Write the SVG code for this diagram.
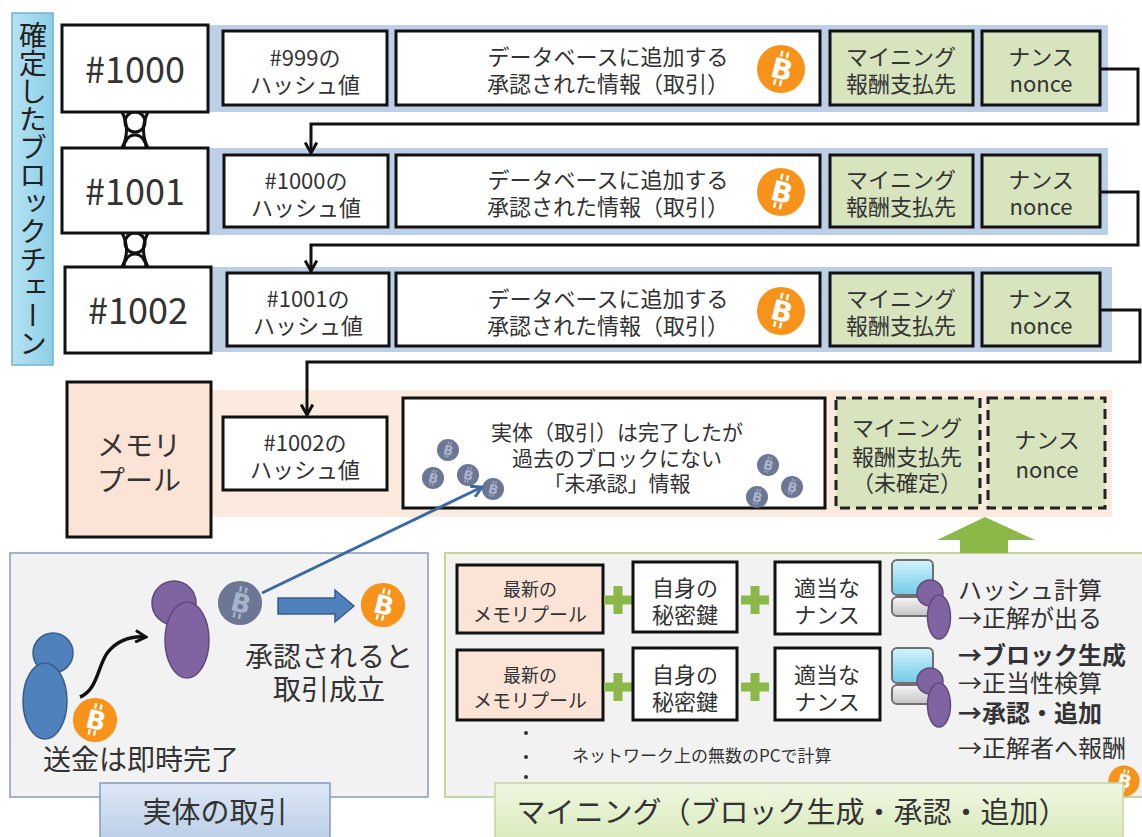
<svg xmlns="http://www.w3.org/2000/svg" xmlns:xlink="http://www.w3.org/1999/xlink" width="1142" height="837" viewBox="0 0 1142 837">
  <style>
    text { font-family: "Noto Sans CJK JP", "Noto Sans", sans-serif; fill: #333; }
    .box { fill: #fff; stroke: #111; stroke-width: 3; }
    .grn { fill: #d7e4bd; stroke: #111; stroke-width: 3; }
    .pch { fill: #fbe4d5; stroke: #111; stroke-width: 3; }
    .dash { fill: #d7e4bd; stroke: #222; stroke-width: 3; stroke-dasharray: 10 6; }
    .band { fill: #bccfe6; }
    .conn { fill: none; stroke: #111; stroke-width: 3; }
    .link { fill: none; stroke: #111; stroke-width: 3; }
    .t22 { font-size: 22px; text-anchor: middle; }
    .t21 { font-size: 21px; text-anchor: middle; }
    .t18 { font-size: 18px; text-anchor: middle; }
    .t28 { font-size: 28px; text-anchor: middle; }
    .big { font-size: 36px; text-anchor: middle; }
    .side { font-size: 24px; }
    .plus { fill: #8cb84a; }
    .coinB { font-family: "DejaVu Sans", sans-serif; font-size: 28px; font-weight: bold; text-anchor: middle; }
  </style>
  <defs>
    <marker id="arr" viewBox="0 0 12 12" refX="10" refY="6" markerWidth="14" markerHeight="14" markerUnits="userSpaceOnUse" orient="auto">
      <path d="M1,1 L10,6 L1,11" fill="none" stroke="#111" stroke-width="2.5"/>
    </marker>
    <marker id="arrB" viewBox="0 0 12 12" refX="10" refY="6" markerWidth="14" markerHeight="14" markerUnits="userSpaceOnUse" orient="auto">
      <path d="M1,1 L10,6 L1,11" fill="none" stroke="#3a6aa0" stroke-width="2.5"/>
    </marker>
    <!-- orange coin, centred on origin, radius 24 -->
    <g id="coin">
      <circle r="24" fill="#f7931a"/>
      <g transform="rotate(14)">
        <text x="1" y="10" class="coinB" style="fill:#fff">B</text>
        <path d="M-3,-18 V-12 M3,-18 V-12 M-3,11 V17 M3,11 V17" stroke="#fff" stroke-width="2.5"/>
      </g>
    </g>
    <!-- grey coin for unconfirmed value -->
    <g id="gcoin">
      <circle r="24" fill="#6b7795"/>
      <g transform="rotate(14)">
        <text x="1" y="10" class="coinB" style="fill:#a9b3ca">B</text>
        <path d="M-3,-18 V-12 M3,-18 V-12 M-3,11 V17 M3,11 V17" stroke="#a9b3ca" stroke-width="2.5"/>
      </g>
    </g>
    <linearGradient id="gScreen" x1="0" y1="0" x2="0" y2="1">
      <stop offset="0" stop-color="#d2f3fc"/>
      <stop offset="1" stop-color="#6fcbe9"/>
    </linearGradient>
    <linearGradient id="gBase" x1="0" y1="0" x2="0" y2="1">
      <stop offset="0" stop-color="#f5f5f5"/>
      <stop offset="1" stop-color="#c4c4c4"/>
    </linearGradient>
    <linearGradient id="gSide" x1="0" y1="0" x2="1" y2="0">
      <stop offset="0" stop-color="#b5e2f3"/>
      <stop offset="1" stop-color="#8ccfe8"/>
    </linearGradient>
    <linearGradient id="gBlueLbl" x1="0" y1="0" x2="0" y2="1">
      <stop offset="0" stop-color="#dde8f5"/>
      <stop offset="1" stop-color="#b9cde6"/>
    </linearGradient>
    <linearGradient id="gGreenLbl" x1="0" y1="0" x2="0" y2="1">
      <stop offset="0" stop-color="#f0f7e2"/>
      <stop offset="1" stop-color="#d8e9b9"/>
    </linearGradient>
    <!-- workstation with operator -->
    <g id="pc">
      <rect x="0" y="0" width="41" height="35" rx="5" fill="url(#gScreen)" stroke="#6f6f6f" stroke-width="2"/>
      <rect x="0" y="37" width="41" height="19" rx="5" fill="url(#gBase)" stroke="#6f6f6f" stroke-width="2"/>
      <circle cx="38" cy="33" r="13" fill="#8064a2" stroke="#5f497a" stroke-width="1.5"/>
      <ellipse cx="47" cy="57" rx="11.5" ry="22" fill="#8064a2" stroke="#5f497a" stroke-width="1.5"/>
    </g>
    <g id="plusSign">
      <rect x="-14" y="-4.5" width="28" height="9" class="plus"/>
      <rect x="-4.5" y="-14" width="9" height="28" class="plus"/>
    </g>
  </defs>

  <rect width="1142" height="837" fill="#fff"/>

  <!-- side caption -->
  <g id="chain-label">
    <rect x="12" y="13" width="41" height="352" fill="url(#gSide)" stroke="#6fb3cd" stroke-width="1.5"/>
    <text x="33" y="189" style="writing-mode:vertical-rl;font-size:28px;text-anchor:middle;fill:#222">確定したブロックチェーン</text>
  </g>

  <!-- chain links between blocks -->
  <g id="links">
    <g>
      <circle cx="135" cy="122" r="10" class="link"/>
      <path d="M122,112 Q131,130 122,148 M148,112 Q139,130 148,148 M124,148 A11,13 0 0 1 146,148" class="link"/>
    </g>
    <g>
      <circle cx="135" cy="243" r="10" class="link"/>
      <path d="M122,233 Q131,250 122,267 M148,233 Q139,250 148,267 M124,267 A11,13 0 0 1 146,267" class="link"/>
    </g>
  </g>

  <!-- block #1000 -->
  <g id="block-1000">
    <rect x="200" y="25" width="908" height="87" class="band"/>
    <rect x="62" y="25" width="146" height="87" class="box"/>
    <text x="135" y="83" class="big">#1000</text>
    <rect x="223" y="31" width="164" height="74" class="box"/>
    <text x="305" y="66" class="t22">#999の</text>
    <text x="305" y="93" class="t22">ハッシュ値</text>
    <rect x="396" y="31" width="424" height="74" class="box"/>
    <text x="608" y="65" class="t22">データベースに追加する</text>
    <text x="608" y="92" class="t22">承認された情報（取引）</text>
    <use xlink:href="#coin" transform="translate(781,69)"/>
    <rect x="830" y="31" width="143" height="74" class="grn"/>
    <text x="901" y="65" class="t22">マイニング</text>
    <text x="901" y="92" class="t22">報酬支払先</text>
    <rect x="982" y="31" width="118" height="74" class="grn"/>
    <text x="1041" y="65" class="t22">ナンス</text>
    <text x="1041" y="92" class="t22">nonce</text>
  </g>

  <!-- block #1001 -->
  <g id="block-1001">
    <rect x="200" y="148" width="908" height="87" class="band"/>
    <rect x="62" y="148" width="146" height="85" class="box"/>
    <text x="135" y="205" class="big">#1001</text>
    <rect x="224" y="155" width="164" height="72" class="box"/>
    <text x="306" y="189" class="t22">#1000の</text>
    <text x="306" y="216" class="t22">ハッシュ値</text>
    <rect x="396" y="155" width="424" height="72" class="box"/>
    <text x="608" y="188" class="t22">データベースに追加する</text>
    <text x="608" y="215" class="t22">承認された情報（取引）</text>
    <use xlink:href="#coin" transform="translate(781,192)"/>
    <rect x="830" y="155" width="143" height="72" class="grn"/>
    <text x="901" y="188" class="t22">マイニング</text>
    <text x="901" y="215" class="t22">報酬支払先</text>
    <rect x="982" y="155" width="118" height="72" class="grn"/>
    <text x="1041" y="188" class="t22">ナンス</text>
    <text x="1041" y="215" class="t22">nonce</text>
  </g>

  <!-- block #1002 -->
  <g id="block-1002">
    <rect x="204" y="267" width="908" height="85" class="band"/>
    <rect x="65" y="267" width="146" height="86" class="box"/>
    <text x="138" y="324" class="big">#1002</text>
    <rect x="227" y="273" width="162" height="73" class="box"/>
    <text x="308" y="307" class="t22">#1001の</text>
    <text x="308" y="334" class="t22">ハッシュ値</text>
    <rect x="396" y="273" width="424" height="73" class="box"/>
    <text x="608" y="307" class="t22">データベースに追加する</text>
    <text x="608" y="334" class="t22">承認された情報（取引）</text>
    <use xlink:href="#coin" transform="translate(781,311)"/>
    <rect x="830" y="273" width="143" height="73" class="grn"/>
    <text x="901" y="307" class="t22">マイニング</text>
    <text x="901" y="334" class="t22">報酬支払先</text>
    <rect x="982" y="273" width="118" height="73" class="grn"/>
    <text x="1041" y="307" class="t22">ナンス</text>
    <text x="1041" y="334" class="t22">nonce</text>
  </g>

  <!-- memory pool -->
  <g id="mempool">
    <rect x="211" y="390" width="901" height="127" fill="#fdeadf"/>
    <rect x="67" y="382" width="144" height="155" class="pch"/>
    <text x="139" y="456" style="font-size:28px;text-anchor:middle">メモリ</text>
    <text x="139" y="491" style="font-size:28px;text-anchor:middle">プール</text>
    <rect x="223" y="417" width="164" height="73" class="box"/>
    <text x="305" y="451" class="t22">#1002の</text>
    <text x="305" y="478" class="t22">ハッシュ値</text>
  </g>

  <g id="unconfirmed">
    <rect x="403" y="398" width="422" height="110" class="box"/>
    <text x="617" y="440" class="t21">実体（取引）は完了したが</text>
    <text x="617" y="466" class="t21">過去のブロックにない</text>
    <text x="617" y="491" class="t21">「未承認」情報</text>
    <use xlink:href="#gcoin" transform="translate(448,450) scale(0.46)"/>
    <use xlink:href="#gcoin" transform="translate(433,478) scale(0.46)"/>
    <use xlink:href="#gcoin" transform="translate(468,475) scale(0.46)"/>
    <use xlink:href="#gcoin" transform="translate(493,489) scale(0.46)"/>
    <use xlink:href="#gcoin" transform="translate(768,465) scale(0.46)"/>
    <use xlink:href="#gcoin" transform="translate(757,497) scale(0.46)"/>
    <use xlink:href="#gcoin" transform="translate(792,487) scale(0.46)"/>
  </g>

  <g id="pending-reward">
    <rect x="836" y="398" width="144" height="110" class="dash"/>
    <text x="907" y="436" class="t22">マイニング</text>
    <text x="907" y="465" class="t22">報酬支払先</text>
    <text x="907" y="491" class="t22">（未確定）</text>
  </g>

  <g id="pending-nonce">
    <rect x="988" y="398" width="117" height="110" class="dash"/>
    <text x="1047" y="448" class="t22">ナンス</text>
    <text x="1047" y="478" class="t22">nonce</text>
  </g>

  <!-- real-world transaction panel -->
  <g id="transaction">
    <rect x="10" y="553" width="418" height="244" fill="#f2f2f2" stroke="#8a9cb5" stroke-width="1.5"/>
    <circle cx="53" cy="653" r="20" fill="#4f81bd" stroke="#385d8a" stroke-width="1.5"/>
    <ellipse cx="45" cy="701" rx="22" ry="38" fill="#4f81bd" stroke="#385d8a" stroke-width="1.5"/>
    <use xlink:href="#coin" transform="translate(95,720) scale(0.92)"/>
    <circle cx="174" cy="603" r="22" fill="#8064a2" stroke="#5f497a" stroke-width="1.5"/>
    <ellipse cx="187" cy="640" rx="22" ry="38" fill="#8064a2" stroke="#5f497a" stroke-width="1.5"/>
    <use xlink:href="#gcoin" transform="translate(240,603) scale(0.92)"/>
    <polygon points="278,598 335,598 335,590 354,606 335,622 335,614 278,614" fill="#4f81bd" stroke="#385d8a" stroke-width="1.5"/>
    <use xlink:href="#coin" transform="translate(383,605) scale(0.92)"/>
    <text x="329" y="667" class="t28">承認されると</text>
    <text x="329" y="700" class="t28">取引成立</text>
    <text x="141" y="770" class="t28">送金は即時完了</text>
  </g>

  <g id="transaction-label">
    <rect x="100" y="783" width="230" height="60" fill="url(#gBlueLbl)" stroke="#7f9cc4" stroke-width="1.5"/>
    <text x="215" y="823" style="font-size:29px;text-anchor:middle">実体の取引</text>
  </g>

  <!-- mining panel -->
  <g id="mining">
    <rect x="445" y="553" width="705" height="244" fill="#f2f2f2" stroke="#c3d69b" stroke-width="2"/>
    <rect x="457" y="565" width="146" height="68" class="pch"/>
    <text x="530" y="596" class="t18">最新の</text>
    <text x="530" y="622" style="font-size:19px;text-anchor:middle">メモリプール</text>
    <use xlink:href="#plusSign" transform="translate(618,600)"/>
    <rect x="633" y="562" width="104" height="70" class="box"/>
    <text x="685" y="596" class="t22">自身の</text>
    <text x="685" y="623" class="t22">秘密鍵</text>
    <use xlink:href="#plusSign" transform="translate(755,600)"/>
    <rect x="775" y="562" width="105" height="72" class="box"/>
    <text x="827" y="596" class="t22">適当な</text>
    <text x="827" y="623" class="t22">ナンス</text>
    <use xlink:href="#pc" transform="translate(892,560)"/>

    <rect x="457" y="650" width="146" height="70" class="pch"/>
    <text x="530" y="682" class="t18">最新の</text>
    <text x="530" y="708" style="font-size:19px;text-anchor:middle">メモリプール</text>
    <use xlink:href="#plusSign" transform="translate(618,687)"/>
    <rect x="633" y="648" width="104" height="72" class="box"/>
    <text x="685" y="683" class="t22">自身の</text>
    <text x="685" y="710" class="t22">秘密鍵</text>
    <use xlink:href="#plusSign" transform="translate(755,687)"/>
    <rect x="775" y="648" width="105" height="72" class="box"/>
    <text x="827" y="683" class="t22">適当な</text>
    <text x="827" y="710" class="t22">ナンス</text>
    <use xlink:href="#pc" transform="translate(892,648)"/>

    <circle cx="526" cy="733" r="2" fill="#333"/>
    <circle cx="526" cy="757" r="2" fill="#333"/>
    <circle cx="526" cy="777" r="2" fill="#333"/>
    <text x="572" y="762" style="font-size:17px">ネットワーク上の無数のPCで計算</text>

    <text x="958" y="599" class="side">ハッシュ計算</text>
    <text x="958" y="627" class="side">→正解が出る</text>
    <text x="958" y="664" class="side" style="font-weight:bold">→ブロック生成</text>
    <text x="958" y="692" class="side">→正当性検算</text>
    <text x="958" y="722" class="side" style="font-weight:bold">→承認・追加</text>
    <text x="958" y="757" class="side">→正解者へ報酬</text>
    <use xlink:href="#coin" transform="translate(1124,781) scale(0.65)"/>
  </g>

  <g id="mining-label">
    <rect x="495" y="783" width="628" height="60" fill="url(#gGreenLbl)" stroke="#c3d69b" stroke-width="1.5"/>
    <text x="792" y="823" style="font-size:29px;text-anchor:middle">マイニング（ブロック生成・承認・追加）</text>
  </g>

  <!-- connectors -->
  <g id="connectors">
    <path d="M1100,69 H1138 V124 H311 V153" class="conn" marker-end="url(#arr)"/>
    <path d="M1100,192 H1138 V245 H311 V271" class="conn" marker-end="url(#arr)"/>
    <path d="M1100,310 H1140 V362 H307 V415" class="conn" marker-end="url(#arr)"/>
    <path d="M262,593 L482,487" fill="none" stroke="#3a6aa0" stroke-width="3" marker-end="url(#arrB)"/>
    <path d="M80,697 C98,690 98,664 108,652 C118,640 132,636 146,637" fill="none" stroke="#111" stroke-width="3.5" marker-end="url(#arr)"/>
    <polygon points="985,517 1035,540 1008,540 1008,553 960,553 960,540 937,540" fill="#8cb84a"/>
  </g>
</svg>
